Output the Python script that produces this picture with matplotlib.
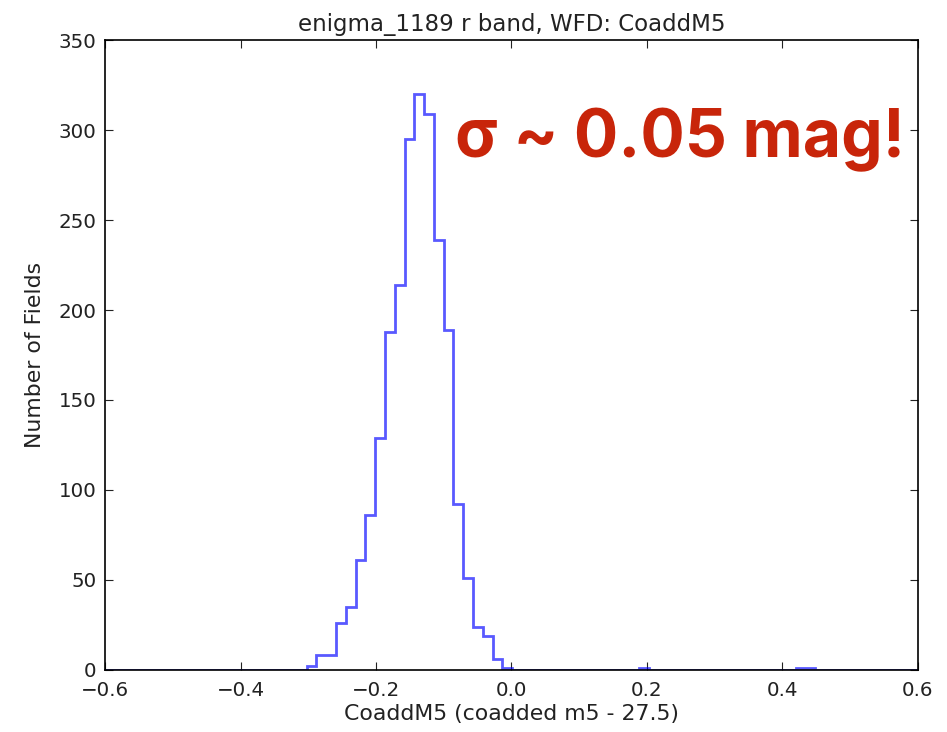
"""Histogram of coadded m5 depth across WFD fields."""

import matplotlib
matplotlib.use("Agg")
import matplotlib.pyplot as plt
import numpy as np

# bin layout
bin_width = 0.01445
first_edge = -0.3023

# centres of the occupied bins and their counts
bin_centres = [
    -0.2951, -0.2806, -0.2662, -0.2517, -0.2373, -0.2228, -0.2084, -0.1939,
    -0.1795, -0.1650, -0.1506, -0.1361, -0.1217, -0.1072, -0.0928, -0.0783,
    -0.0639, -0.0494, -0.0350, -0.0205, -0.0061, 0.1963, 0.4274, 0.4419,
]
bin_counts = [
    2, 8, 8, 26, 35, 61, 86, 129,
    188, 214, 295, 320, 309, 239, 189, 92,
    51, 24, 19, 6, 1, 1, 1, 1,
]

x_ticks = [-0.6, -0.4, -0.2, 0.0, 0.2, 0.4, 0.6]
y_ticks = [0, 50, 100, 150, 200, 250, 300, 350]


def main() -> None:
    edges = first_edge + bin_width * np.arange(-25, 66)

    fig = plt.figure(figsize=(9.47, 7.32), dpi=100)
    ax = fig.add_axes([0.111, 0.085, 0.858, 0.860])

    ax.hist(bin_centres, bins=edges, weights=bin_counts, histtype="step",
            color="blue", alpha=0.65, linewidth=2)

    ax.set_xlim(-0.6, 0.6)
    ax.set_ylim(0, 350)
    ax.set_xticks(x_ticks)
    ax.set_yticks(y_ticks)
    ax.set_xticklabels([f"{t:.1f}".replace("-", "\u2212") for t in x_ticks])
    ax.tick_params(direction="in", top=True, right=True, length=6, labelsize=14.3,
                   pad=6, colors="#222222")
    ax.tick_params(axis="x", pad=8)
    for spine in ax.spines.values():
        spine.set_linewidth(1.2)

    ax.set_title("enigma_1189 r band, WFD: CoaddM5", fontsize=16.5, color="#222222", pad=7)
    ax.set_xlabel("CoaddM5 (coadded m5 - 27.5)", fontsize=15.8, color="#222222", labelpad=3)
    ax.set_ylabel("Number of Fields", fontsize=15.8, color="#222222", labelpad=10)

    ax.text(0.984, 0.814, "\u03c3 ~ 0.05 mag!", transform=ax.transAxes, ha="right",
            va="baseline", fontsize=47.5, fontweight="bold", color="#C8250A",
            family=["Inter", "DejaVu Sans"])

    fig.savefig("out.png", dpi=100)
    plt.close(fig)


if __name__ == "__main__":
    main()
